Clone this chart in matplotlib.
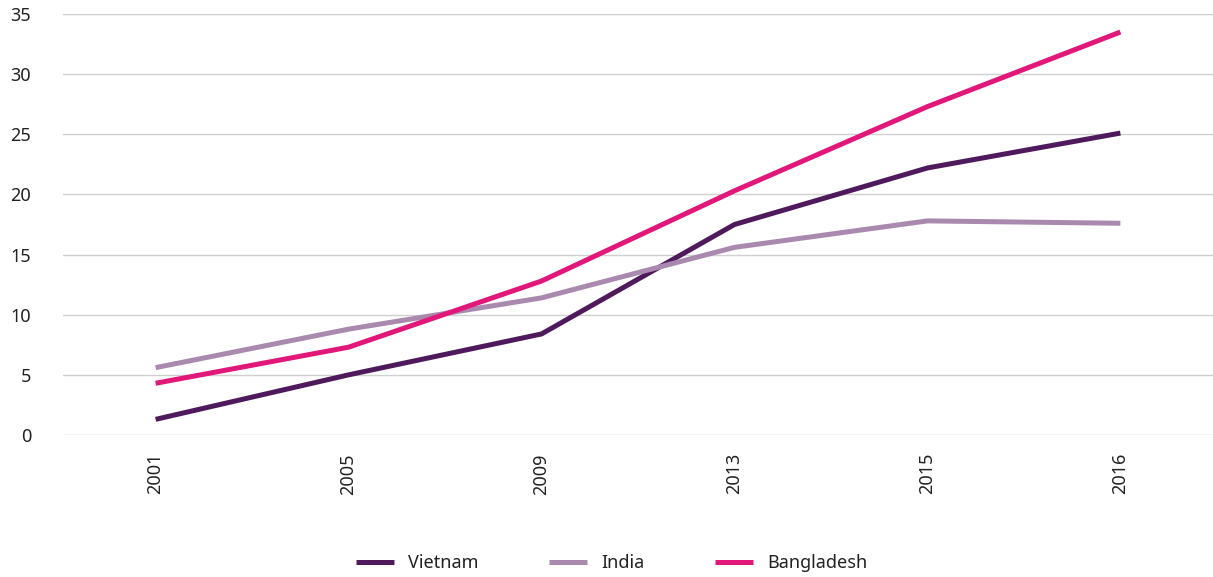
import matplotlib
matplotlib.use("Agg")
import matplotlib.pyplot as plt

years = ["2001", "2005", "2009", "2013", "2015", "2016"]
vietnam = [1.3, 5.0, 8.4, 17.5, 22.2, 25.1]
india = [5.6, 8.8, 11.4, 15.6, 17.8, 17.6]
bangladesh = [4.3, 7.3, 12.8, 20.3, 27.3, 33.5]
yticks = [0, 5, 10, 15, 20, 25, 30, 35]

plt.rcParams['font.family'] = ['Noto Sans', 'DejaVu Sans']

fig = plt.figure(figsize=(12.13, 5.77), dpi=100)
ax = fig.add_axes([63/1213, (577-435)/577, 1 - 63/1213, (435-14)/577])

x = list(range(len(years)))
ax.plot(x, vietnam, color="#4E1A5C", lw=3.6, label="Vietnam", solid_capstyle="butt")
ax.plot(x, india, color="#A98AAE", lw=3.6, label="India", solid_capstyle="butt")
ax.plot(x, bangladesh, color="#E2177A", lw=3.6, label="Bangladesh", solid_capstyle="butt")

ax.set_xlim(-0.48, 5.48)
ax.set_ylim(0, 35)
ax.set_yticks(yticks)
ax.set_yticklabels([str(v) for v in yticks])
ax.set_xticks(x)
ax.set_xticklabels(years, rotation=90)
ax.yaxis.grid(True, color="#d0d0d0", lw=1)
ax.set_axisbelow(True)
for s in ax.spines.values():
    s.set_visible(False)
ax.tick_params(axis="y", length=0, pad=23, labelsize=13, labelcolor="#222222")
ax.tick_params(axis="x", length=0, pad=13, labelsize=13, labelcolor="#222222")

fig.legend(loc="center", bbox_to_anchor=(612/1213, 1 - 563/577), ncol=3, frameon=False,
           fontsize=13, handlelength=2.1, handletextpad=0.8, columnspacing=3.9,
           labelcolor="#222222")

fig.savefig("out.png", dpi=100)
